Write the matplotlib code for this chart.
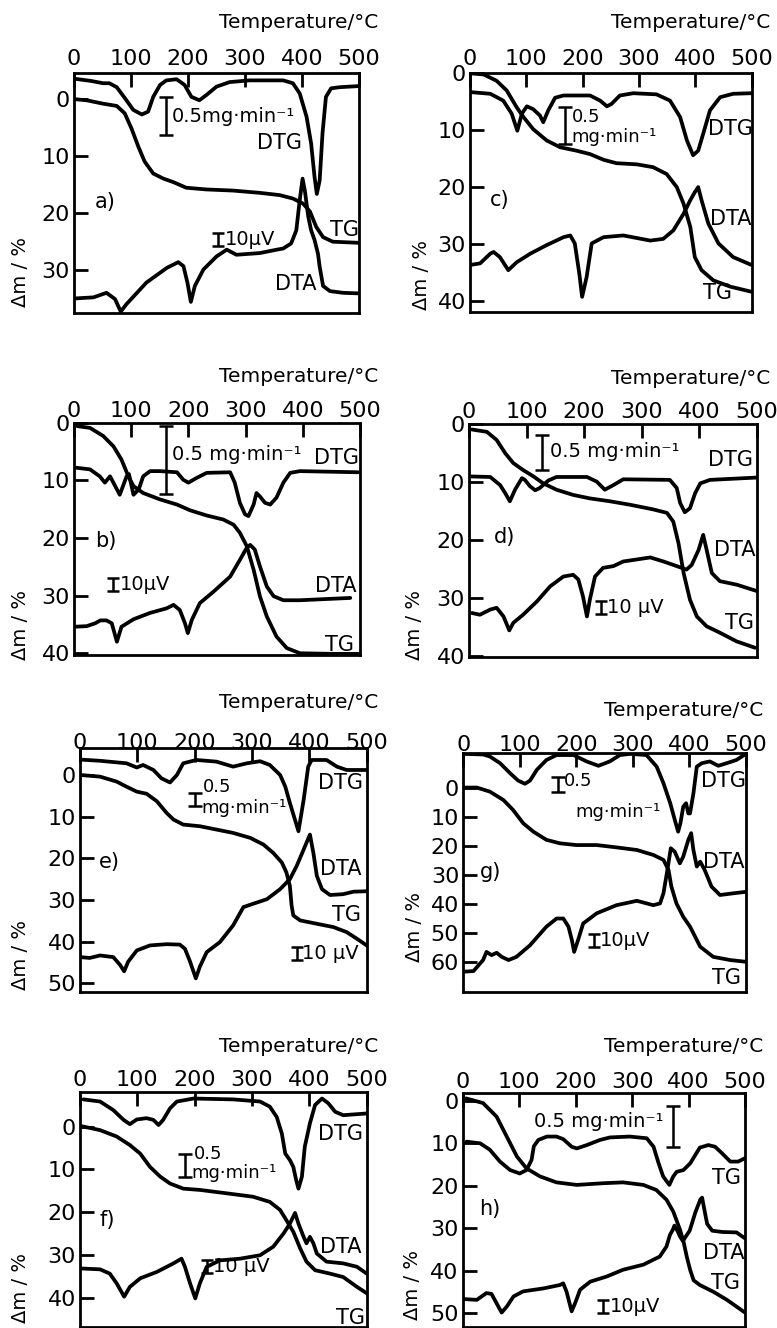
import matplotlib
matplotlib.use("Agg")
import matplotlib.pyplot as plt

W, H = 777, 1328
temp_ticks = [0, 100, 200, 300, 400, 500]

# ---------------- data (Temperature °C, value in panel Δm/% units) ----------------
a_TG = [(0,0.0),(22,0.2),(51,0.8),(75,1.2),(89,2.5),(101,5.2),(113,8.4),(124,11.0),(139,13.1),(157,14.0),(174,14.6),(197,15.6),(232,15.9),(279,16.1),(326,16.5),(361,16.9),(384,17.5),(402,18.4),(414,19.8),(425,22.5),(437,24.3),(454,25.1),(500,25.3)]
a_DTG = [(0,-3.6),(30,-3.2),(51,-2.8),(62,-2.8),(75,-2.1),(92,0.2),(104,1.9),(119,2.7),(130,2.2),(139,-0.4),(151,-2.5),(162,-3.3),(180,-3.5),(194,-2.5),(206,-0.4),(220,0.2),(232,-0.7),(250,-2.2),(273,-3.0),(308,-3.3),(367,-3.3),(384,-2.8),(396,-1.0),(408,3.1),(416,7.8),(422,13.7),(426,16.7),(431,14.3),(436,6.0),(442,-0.4),(451,-1.9),(466,-2.1),(500,-2.3)]
a_DTA = [(0,35.1),(34,34.9),(57,34.1),(72,35.2),(82,37.4),(92,36.1),(127,32.3),(163,29.7),(183,28.7),(192,29.4),(199,32.3),(205,35.7),(212,32.9),(227,30.0),(250,27.7),(268,26.5),(285,27.4),(326,27.1),(356,26.5),(367,26.3),(381,25.4),(390,23.1),(396,17.8),(401,14.0),(405,16.1),(411,20.7),(416,23.1),(422,24.8),(428,27.2),(431,29.5),(437,32.9),(449,33.8),(472,34.1),(500,34.2)]

c_TG = [(0,0.0),(24,0.2),(47,1.3),(65,3.0),(83,6.0),(95,7.7),(112,9.8),(136,11.8),(160,13.0),(189,13.6),(213,14.2),(237,15.2),(260,15.8),(296,16.0),(325,16.5),(349,17.7),(367,20.0),(379,22.9),(391,27.0),(399,32.3),(411,34.6),(432,36.4),(462,37.5),(500,38.4)]
c_DTG = [(0,3.3),(36,3.6),(59,4.8),(74,7.1),(84,10.1),(92,7.1),(101,5.8),(112,6.3),(124,7.4),(130,8.6),(139,6.5),(151,4.3),(166,3.9),(213,3.9),(231,4.8),(243,5.8),(251,5.4),(266,3.9),(290,3.5),(331,3.7),(355,4.8),(373,7.7),(385,11.8),(396,14.4),(405,13.6),(414,10.6),(426,6.5),(444,4.2),(467,3.6),(500,3.5)]
c_DTA = [(0,33.7),(18,33.4),(36,31.7),(42,31.4),(53,32.3),(68,34.6),(83,33.2),(107,31.7),(136,30.2),(166,28.8),(178,28.5),(186,29.9),(194,35.2),(199,39.3),(207,35.8),(216,29.9),(237,28.8),(272,28.5),(320,29.4),(343,29.1),(361,27.6),(379,24.7),(391,22.3),(399,20.9),(405,20.0),(411,22.3),(423,26.4),(441,29.9),(467,32.3),(500,33.7)]

b_TG = [(6,0.6),(28,0.9),(51,2.3),(69,4.1),(83,6.4),(95,9.3),(104,11.0),(121,12.2),(150,13.3),(180,14.2),(203,15.2),(232,16.1),(261,16.8),(279,17.7),(290,19.1),(302,21.4),(314,25.5),(325,30.1),(337,33.6),(354,37.1),(372,39.1),(395,40.0),(453,40.1),(497,40.1)]
b_DTG = [(3,7.8),(28,8.1),(45,9.3),(54,10.4),(63,9.3),(80,12.5),(92,9.3),(96,8.9),(104,12.5),(113,11.6),(121,9.3),(133,8.4),(150,8.4),(180,8.6),(191,9.9),(200,10.4),(214,9.6),(232,8.7),(273,8.6),(281,10.4),(290,13.9),(299,15.9),(305,16.2),(314,14.2),(319,12.2),(325,12.8),(334,13.9),(343,14.2),(354,13.0),(366,10.4),(378,8.7),(395,8.4),(497,8.6)]
b_DTA = [(0,35.4),(22,35.3),(37,34.8),(46,34.3),(57,34.3),(66,34.8),(75,38.0),(83,35.4),(104,34.1),(133,33.0),(162,32.2),(174,31.6),(185,32.5),(194,34.8),(199,36.5),(206,34.2),(220,31.3),(244,29.3),(273,26.7),(290,23.8),(302,21.7),(308,21.2),(316,22.0),(325,24.9),(337,28.4),(349,30.1),(366,30.8),(395,30.8),(483,30.4)]

d_TG = [(5,0.9),(31,1.3),(48,2.7),(63,5.0),(77,6.7),(94,7.9),(112,9.0),(129,10.2),(152,11.3),(181,12.2),(210,12.8),(245,13.3),(280,13.9),(320,14.7),(344,15.3),(355,16.8),(364,20.5),(373,25.7),(384,30.3),(396,33.2),(413,34.9),(436,36.0),(465,37.5),(497,38.6)]
d_DTG = [(0,9.0),(37,9.1),(54,10.5),(63,11.9),(71,13.3),(80,11.3),(92,9.3),(97,9.6),(106,10.7),(115,11.4),(123,11.0),(138,9.7),(152,9.1),(205,9.1),(222,9.9),(236,11.3),(251,10.5),(268,9.5),(349,9.6),(361,11.0),(367,13.6),(375,15.2),(384,14.5),(393,11.9),(402,10.2),(419,9.6),(500,9.2)]
d_DTA = [(5,32.6),(19,32.9),(37,32.0),(48,31.7),(60,33.2),(70,35.6),(77,34.3),(94,32.9),(118,30.6),(141,28.0),(164,26.3),(181,26.0),(190,26.8),(198,29.7),(205,33.2),(210,30.3),(219,26.3),(233,24.8),(251,24.5),(268,23.7),(315,23.0),(338,23.7),(361,24.5),(378,25.1),(387,24.3),(399,21.7),(407,19.1),(413,21.7),(422,25.7),(436,27.1),(465,27.7),(500,28.8)]

e_TG = [(0,0.0),(35,0.4),(64,1.6),(81,2.8),(99,4.0),(116,4.5),(134,6.3),(151,9.1),(163,10.7),(180,11.9),(209,12.3),(238,13.1),(267,13.9),(297,15.1),(320,16.7),(337,18.7),(352,21.0),(360,23.4),(366,26.6),(369,31.3),(372,33.7),(384,34.9),(413,35.7),(442,36.5),(465,37.7),(483,39.3),(500,40.9)]
e_DTG = [(0,-3.7),(35,-3.4),(81,-2.8),(99,-1.8),(110,-2.4),(128,-1.2),(142,0.8),(157,1.8),(169,0.0),(180,-2.8),(203,-3.6),(238,-3.2),(267,-2.0),(291,-2.8),(314,-3.3),(331,-2.4),(349,0.0),(358,2.8),(366,6.7),(381,13.5),(390,6.0),(398,-2.0),(404,-3.6),(430,-3.6),(448,-2.0),(465,-1.2),(500,-1.2)]
e_DTA = [(0,43.7),(17,43.9),(35,43.3),(58,43.7),(70,45.6),(77,47.1),(84,44.8),(99,42.1),(122,40.9),(151,40.6),(174,40.7),(183,41.7),(192,44.8),(202,48.8),(209,46.0),(221,42.5),(244,40.1),(267,36.1),(285,31.7),(302,30.9),(326,29.8),(349,27.4),(366,25.0),(378,21.8),(390,17.9),(401,14.3),(407,18.7),(413,24.2),(422,27.4),(436,28.8),(459,28.6),(477,28.0),(500,27.9)]

g_TG = [(0,0.0),(24,0.0),(47,1.4),(71,4.3),(88,7.7),(106,12.3),(124,15.2),(147,18.0),(171,19.2),(200,19.8),(236,19.8),(271,20.6),(307,21.5),(336,23.2),(354,24.9),(363,28.4),(368,34.1),(377,39.9),(389,44.5),(401,47.9),(419,54.8),(442,58.3),(472,59.4),(500,60.0)]
g_DTG = [(0,-11.6),(35,-11.4),(47,-10.7),(65,-8.4),(83,-4.9),(97,-2.4),(109,-1.3),(118,-2.4),(130,-6.1),(147,-9.5),(165,-11.2),(195,-11.2),(218,-9.0),(239,-7.5),(259,-9.0),(277,-11.2),(295,-11.6),(324,-11.2),(342,-7.2),(354,-1.5),(366,5.4),(374,11.1),(380,15.2),(384,12.3),(389,6.6),(394,5.4),(398,8.9),(401,8.9),(407,2.0),(413,-7.2),(422,-8.4),(436,-9.0),(451,-7.5),(466,-8.4),(483,-9.5),(500,-11.6)]
g_DTA = [(1,63.4),(18,63.2),(35,59.4),(41,56.6),(50,57.7),(59,56.9),(68,58.3),(80,59.4),(94,58.3),(118,54.3),(147,47.9),(165,45.1),(177,45.1),(186,47.9),(192,52.5),(196,56.6),(203,52.5),(212,46.8),(236,43.3),(271,40.5),(307,39.0),(336,40.5),(348,39.9),(354,36.4),(360,29.5),(367,20.9),(374,22.1),(383,26.1),(389,23.8),(398,18.0),(403,15.7),(407,21.5),(413,27.2),(419,25.5),(427,28.4),(439,34.1),(454,37.0),(478,36.4),(500,35.9)]

f_TG = [(0,-0.2),(35,0.8),(64,2.3),(87,4.3),(105,6.3),(122,9.4),(140,11.7),(157,13.3),(180,14.5),(209,14.8),(256,15.6),(302,16.4),(331,17.6),(349,19.5),(360,21.9),(372,24.6),(384,28.5),(395,31.6),(410,33.6),(436,34.4),(459,35.2),(483,37.5),(500,39.0)]
f_DTG = [(6,-6.4),(35,-5.9),(58,-3.9),(76,-1.6),(87,-0.6),(99,-1.7),(116,-2.0),(128,-1.6),(137,-0.4),(145,-1.6),(157,-4.3),(169,-5.9),(198,-6.6),(267,-6.4),(314,-5.9),(331,-4.7),(343,-2.3),(352,1.6),(358,6.3),(366,7.8),(372,9.4),(377,12.5),(381,14.5),(387,11.7),(392,4.7),(401,-0.8),(410,-5.1),(422,-6.6),(433,-5.5),(445,-3.5),(459,-2.7),(500,-3.1)]
f_DTA = [(3,33.2),(35,33.4),(52,34.4),(64,36.7),(77,39.8),(87,37.5),(105,35.5),(134,34.0),(163,32.0),(177,30.9),(183,32.8),(192,36.7),(201,40.2),(209,36.7),(221,32.8),(244,31.3),(279,30.9),(314,30.1),(337,28.1),(355,25.0),(366,22.7),(375,20.2),(381,22.7),(390,25.8),(395,27.3),(401,25.8),(407,27.3),(413,29.7),(430,31.6),(459,32.0),(483,32.8),(500,34.4)]

h_TG = [(6,-0.6),(36,0.5),(60,3.7),(78,8.4),(96,13.1),(113,15.9),(137,17.8),(166,19.2),(202,19.8),(249,19.4),(284,19.2),(320,19.8),(343,21.0),(361,23.3),(373,26.1),(385,30.4),(391,33.1),(397,36.8),(403,39.9),(409,42.3),(420,43.4),(444,45.0),(468,46.9),(500,49.9)]
h_DTG = [(7,9.6),(31,10.0),(48,11.5),(66,14.3),(84,16.3),(101,17.1),(113,16.3),(122,13.9),(126,10.7),(134,9.2),(149,8.4),(166,8.4),(178,9.0),(193,10.8),(202,11.2),(220,10.4),(243,9.2),(261,8.6),(296,8.4),(326,8.8),(338,10.8),(347,14.7),(355,17.8),(366,19.8),(373,17.8),(379,16.7),(391,16.3),(403,14.7),(420,11.0),(435,10.4),(447,10.8),(459,12.3),(474,14.3),(488,14.3),(500,13.5)]
h_DTA = [(0,46.7),(25,46.9),(42,45.3),(51,45.5),(60,47.7),(69,49.9),(78,48.5),(90,46.1),(107,44.9),(143,44.2),(172,43.4),(178,43.0),(184,45.0),(190,48.1),(193,49.6),(199,47.7),(208,44.5),(226,42.6),(255,41.4),(284,39.8),(320,38.6),(349,36.7),(361,34.3),(367,31.6),(372,30.4),(375,29.4),(381,30.8),(385,32.0),(390,33.0),(402,30.6),(412,26.3),(421,23.2),(424,22.8),(429,26.3),(433,29.0),(442,30.6),(460,30.9),(485,31.0),(500,32.4)]

curves = {
    'a': (a_TG, a_DTG, a_DTA), 'b': (b_TG, b_DTG, b_DTA),
    'c': (c_TG, c_DTG, c_DTA), 'd': (d_TG, d_DTG, d_DTA),
    'e': (e_TG, e_DTG, e_DTA), 'f': (f_TG, f_DTG, f_DTA),
    'g': (g_TG, g_DTG, g_DTA), 'h': (h_TG, h_DTG, h_DTA),
}

# scale bars: (T, y_low, y_high)
dtg_bars = {'a': (162, -0.4, 6.3), 'c': (169, 6.0, 12.4), 'b': (161, 0.6, 12.3), 'd': (126, 1.8, 7.9),
            'e': (200, 4.4, 7.5), 'g': (168, -3.8, 1.4), 'f': (183, 6.3, 11.7), 'h': (372, 1.3, 10.8)}
dta_bars = {'a': (253, 24.8), 'b': (69, 28.1), 'd': (229, 31.7), 'e': (378, 42.9),
            'g': (231, 52.5), 'f': (221, 32.8), 'h': (249, 48.5)}

# ---------------- layout (pixel boxes: left, right, top, bottom) ----------------
layout = {
    'a': dict(box=(74, 359, 73, 312.7), ylim=(-4.6, 37.6), yticks=[0, 10, 20, 30], xpad=3.0,
              title=(378, 22), ylab=(20, 307)),
    'c': dict(box=(470, 751.7, 73.3, 311.7), ylim=(0.0, 41.9), yticks=[0, 10, 20, 30, 40], xpad=3.0,
              title=(770, 22), ylab=(421.7, 310)),
    'b': dict(box=(74, 360, 422.7, 655), ylim=(0.0, 40.3), yticks=[0, 10, 20, 30, 40], xpad=1.0,
              title=(378, 377), ylab=(20, 660)),
    'd': dict(box=(469, 756.7, 424.3, 657), ylim=(0.0, 40.2), yticks=[0, 10, 20, 30, 40], xpad=1.5,
              title=(770, 378), ylab=(415, 660)),
    'e': dict(box=(80, 366.7, 748.3, 991.7), ylim=(-6.4, 52.0), yticks=[0, 10, 20, 30, 40, 50], xpad=-3.5,
              title=(378, 703), ylab=(20, 990)),
    'g': dict(box=(463.3, 746, 753.3, 991.7), ylim=(-11.8, 70.3), yticks=[0, 10, 20, 30, 40, 50, 60], xpad=-1.2,
              title=(763, 710), ylab=(415, 962)),
    'f': dict(box=(80, 366.7, 1091.7, 1327), ylim=(-8.2, 46.9), yticks=[0, 10, 20, 30, 40], xpad=1.0,
              title=(378, 1047), ylab=(20, 1323)),
    'h': dict(box=(462.7, 745, 1093.3, 1327), ylim=(-1.8, 53.3), yticks=[0, 10, 20, 30, 40, 50], xpad=1.0,
              title=(763, 1047), ylab=(413, 1320)),
}

# text annotations in data coords: (x, y, text, ha, size)
labels = {
    'a': [(55, 18.1, 'a)', 'center', 15), (361, 7.8, 'DTG', 'center', 15), (475, 23.1, 'TG', 'center', 15),
          (389, 32.6, 'DTA', 'center', 15), (171, 3.1, '0.5mg·min⁻¹', 'left', 14), (264, 24.8, '10μV', 'left', 14)],
    'c': [(53, 22.3, 'c)', 'center', 15), (463, 9.8, 'DTG', 'center', 15), (462, 25.6, 'DTA', 'center', 15),
          (439, 38.7, 'TG', 'center', 15), (180, 7.7, '0.5', 'left', 13), (180, 11.2, 'mg·min⁻¹', 'left', 13)],
    'b': [(55, 20.6, 'b)', 'center', 15), (459, 6.1, 'DTG', 'center', 15), (458, 28.4, 'DTA', 'center', 15),
          (464, 38.6, 'TG', 'center', 15), (171, 5.5, '0.5 mg·min⁻¹', 'left', 14), (80, 28.1, '10μV', 'left', 14)],
    'd': [(61, 19.5, 'd)', 'center', 15), (455, 6.1, 'DTG', 'center', 15), (462, 21.7, 'DTA', 'center', 15),
          (470, 34.3, 'TG', 'center', 15), (141, 4.7, '0.5 mg·min⁻¹', 'left', 14), (239, 31.7, '10 μV', 'left', 14)],
    'e': [(52, 21.0, 'e)', 'center', 15), (455, 2.0, 'DTG', 'center', 15), (455, 22.6, 'DTA', 'center', 15),
          (465, 33.7, 'TG', 'center', 15), (215, 2.9, '0.5', 'left', 13), (212, 8.0, 'mg·min⁻¹', 'left', 13),
          (388, 42.9, '10 μV', 'left', 14)],
    'g': [(48, 29.0, 'g)', 'center', 15), (461, -2.1, 'DTG', 'center', 15), (461, 25.5, 'DTA', 'center', 15),
          (466, 65.7, 'TG', 'center', 15), (177, -2.4, '0.5', 'left', 13), (198, 8.3, 'mg·min⁻¹', 'left', 13),
          (241, 52.5, '10μV', 'left', 14)],
    'f': [(48, 21.9, 'f)', 'center', 15), (455, 1.6, 'DTG', 'center', 15), (455, 28.1, 'DTA', 'center', 15),
          (472, 44.8, 'TG', 'center', 15), (198, 6.3, '0.5', 'left', 13), (195, 10.8, 'mg·min⁻¹', 'left', 13),
          (232, 32.8, '10 μV', 'left', 14)],
    'h': [(48, 25.5, 'h)', 'center', 15), (467, 18.2, 'TG', 'center', 15), (463, 35.9, 'DTA', 'center', 15),
          (465, 43.0, 'TG', 'center', 15), (355, 4.9, '0.5 mg·min⁻¹', 'right', 14), (260, 48.5, '10μV', 'left', 14)],
}

plt.rcParams['font.family'] = ['DejaVu Sans']
fig = plt.figure(figsize=(W / 100, H / 100), dpi=100)

for key, cfg in layout.items():
    l, r, t, b = cfg['box']
    ax = fig.add_axes([l / W, 1 - b / H, (r - l) / W, (b - t) / H])
    for pts in curves[key]:
        ax.plot([p[0] for p in pts], [p[1] for p in pts], color='black', lw=2.7,
                solid_joinstyle='round', solid_capstyle='round')
    bx, y0, y1 = dtg_bars[key]
    ax.errorbar([bx], [(y0 + y1) / 2], yerr=[(y1 - y0) / 2], fmt='none', ecolor='black',
                elinewidth=1.8, capsize=5, capthick=1.8)
    if key in dta_bars:
        tx, ty = dta_bars[key]
        span = (cfg['ylim'][1] - cfg['ylim'][0]) * 13.0 / (b - t)
        ax.errorbar([tx], [ty], yerr=[span / 2], fmt='none', ecolor='black',
                    elinewidth=1.8, capsize=4, capthick=1.8)
    for x, y, s, ha, fs in labels[key]:
        ax.text(x, y, s, ha=ha, va='center', fontsize=fs, color='black')
    ax.set_xlim(0, 500)
    ax.set_ylim(cfg['ylim'][1], cfg['ylim'][0])
    ax.set_xticks(temp_ticks)
    ax.set_yticks(cfg['yticks'])
    ax.tick_params(axis='x', direction='in', length=10, width=2, top=True, bottom=False,
                   labeltop=True, labelbottom=False, pad=cfg['xpad'], labelsize=16)
    ax.tick_params(axis='y', direction='in', length=10, width=2, left=True, right=False,
                   pad=3, labelsize=16)
    for sp in ax.spines.values():
        sp.set_linewidth(2.0)
    fig.text(cfg['title'][0] / W, 1 - cfg['title'][1] / H, 'Temperature/°C',
             ha='right', va='center', fontsize=14.5)
    fig.text(cfg['ylab'][0] / W, 1 - cfg['ylab'][1] / H, 'Δm / %', rotation=90,
             ha='center', va='bottom', fontsize=14)

fig.savefig('out.png', dpi=100)
